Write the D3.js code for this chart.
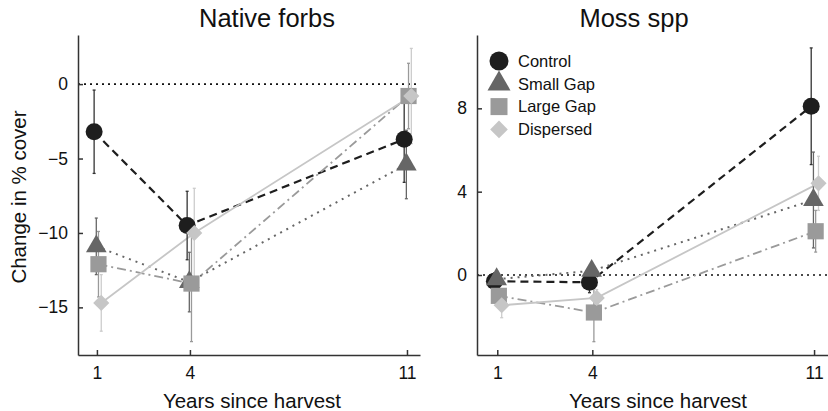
<!DOCTYPE html>
<html lang="en">
<head>
    <meta charset="UTF-8">
    <title>Native forbs / Moss spp</title>
    <style>
        body {
            margin: 0;
            padding: 0;
            background-color: #ffffff;
        }
        svg text {
            font-family: "Liberation Sans", Arial, sans-serif;
            fill: #111;
        }
        .axis path, .axis line {
            stroke: #333;
            stroke-width: 1.5;
        }
        .axis text {
            font-size: 17.5px;
        }
    </style>
    <script src="https://d3js.org/d3.v7.min.js"></script>
</head>
<body>
    <div id="chart"></div>

    <script>
        // data
        const years = [1, 4, 11];
        const groups = ["Control", "Small Gap", "Large Gap", "Dispersed"];

        // Native forbs: rows follow groups, columns follow years
        const forbsMeans = [
            [-3.2, -9.5, -3.7],
            [-10.9, -13.3, -5.4],
            [-12.1, -13.4, -0.8],
            [-14.7, -10.0, -0.8]
        ];
        const forbsErrors = [
            [2.8, 2.3, 2.9],
            [1.9, 2.0, 2.3],
            [2.2, 3.9, 2.2],
            [1.9, 3.0, 3.2]
        ];
        const forbsTicks = [0, -5, -10, -15];

        // Moss spp
        const mossMeans = [
            [-0.3, -0.35, 8.1],
            [-0.2, 0.2, 3.6],
            [-1.0, -1.8, 2.1],
            [-1.45, -1.1, 4.4]
        ];
        const mossErrors = [
            [0.4, 0.5, 2.8],
            [0.4, 0.3, 2.3],
            [0.5, 1.4, 1.0],
            [0.6, 0.4, 1.3]
        ];
        const mossTicks = [0, 4, 8];

        // look of each group
        const fills = ["#1e1e1e", "#666666", "#9a9a9a", "#c6c6c6"];
        const errColors = ["#333333", "#666666", "#9a9a9a", "#cccccc"];
        const dashes = ["8,5", "2,5", "9,4,2,4", null];
        const lineWidths = [2.2, 2, 1.8, 1.8];
        const dodge = [-0.09, -0.02, 0.05, 0.14];
        const shapes = [d3.symbolCircle, d3.symbolTriangle, d3.symbolSquare, d3.symbolSquare];
        const sizes = [227, 185, 262, 130];

        const svg = d3.select("#chart")
            .append("svg")
            .attr("width", 828)
            .attr("height", 411);

        function drawPanel(opts) {
            const x = d3.scaleLinear().domain(opts.xDomain).range(opts.xRange);
            const y = d3.scaleLinear().domain(opts.yDomain).range([35, 355]);
            const g = svg.append("g");

            // zero reference line
            g.append("line")
                .attr("x1", opts.xRange[0]).attr("x2", opts.xRange[1])
                .attr("y1", y(0)).attr("y2", y(0))
                .attr("stroke", "#111")
                .attr("stroke-width", 1.6)
                .attr("stroke-dasharray", "2,4");

            // axes, ticks pointing inward
            g.append("g")
                .attr("class", "axis")
                .attr("transform", `translate(${opts.xRange[0]},0)`)
                .call(d3.axisLeft(y).tickValues(opts.ticks).tickSizeInner(-5).tickSizeOuter(0).tickPadding(10));
            g.append("g")
                .attr("class", "axis")
                .attr("transform", "translate(0,355)")
                .call(d3.axisBottom(x).tickValues(years).tickSizeInner(-5).tickSizeOuter(0).tickPadding(12));

            // connecting lines
            const line = d3.line()
                .x(d => x(d.year))
                .y(d => y(d.v));
            opts.means.forEach((row, gi) => {
                const pts = row.map((v, i) => ({ year: years[i] + dodge[gi], v: v }));
                g.append("path")
                    .datum(pts)
                    .attr("fill", "none")
                    .attr("stroke", fills[gi])
                    .attr("stroke-width", lineWidths[gi])
                    .attr("stroke-dasharray", dashes[gi])
                    .attr("d", line);
            });

            // error bars then markers, group by group
            opts.means.forEach((row, gi) => {
                row.forEach((v, i) => {
                    const cx = x(years[i] + dodge[gi]);
                    const e = opts.errors[gi][i];
                    g.append("line")
                        .attr("x1", cx).attr("x2", cx)
                        .attr("y1", y(v + e)).attr("y2", y(v - e))
                        .attr("stroke", errColors[gi])
                        .attr("stroke-width", 1.3);
                    [v + e, v - e].forEach(end => {
                        g.append("line")
                            .attr("x1", cx - 1.5).attr("x2", cx + 1.5)
                            .attr("y1", y(end)).attr("y2", y(end))
                            .attr("stroke", errColors[gi])
                            .attr("stroke-width", 1.3);
                    });
                });
            });
            opts.means.forEach((row, gi) => {
                row.forEach((v, i) => {
                    g.append("path")
                        .attr("d", d3.symbol().type(shapes[gi]).size(sizes[gi])())
                        .attr("fill", fills[gi])
                        .attr("transform", `translate(${x(years[i] + dodge[gi])},${y(v)})` + (gi === 3 ? " rotate(45)" : ""));
                });
            });

            // title and x label
            g.append("text")
                .attr("x", opts.titleX).attr("y", 27)
                .attr("text-anchor", "middle")
                .style("font-size", "25.5px")
                .text(opts.title);
            g.append("text")
                .attr("x", opts.labelX).attr("y", 408)
                .attr("text-anchor", "middle")
                .style("font-size", "20.5px")
                .text("Years since harvest");
        }

        drawPanel({
            title: "Native forbs", titleX: 267, labelX: 252,
            xDomain: [0.39, 11.42], xRange: [78, 420],
            yDomain: [3.3, -18.2], ticks: forbsTicks,
            means: forbsMeans, errors: forbsErrors
        });
        drawPanel({
            title: "Moss spp", titleX: 634, labelX: 658,
            xDomain: [0.36, 11.44], xRange: [477, 828],
            yDomain: [11.52, -3.84], ticks: mossTicks,
            means: mossMeans, errors: mossErrors
        });

        // y label
        svg.append("text")
            .attr("transform", "translate(26,197) rotate(-90)")
            .attr("text-anchor", "middle")
            .style("font-size", "20.5px")
            .text("Change in % cover");

        // legend in the moss panel
        const legendSizes = [284, 229, 289, 156];
        const legend = svg.append("g");
        groups.forEach((name, gi) => {
            const ly = 61 + gi * 22.8;
            legend.append("path")
                .attr("d", d3.symbol().type(shapes[gi]).size(legendSizes[gi])())
                .attr("fill", fills[gi])
                .attr("transform", `translate(499,${ly})` + (gi === 3 ? " rotate(45)" : ""));
            legend.append("text")
                .attr("x", 518).attr("y", ly + 5.8)
                .style("font-size", "16.5px")
                .text(name);
        });
    </script>
</body>
</html>
